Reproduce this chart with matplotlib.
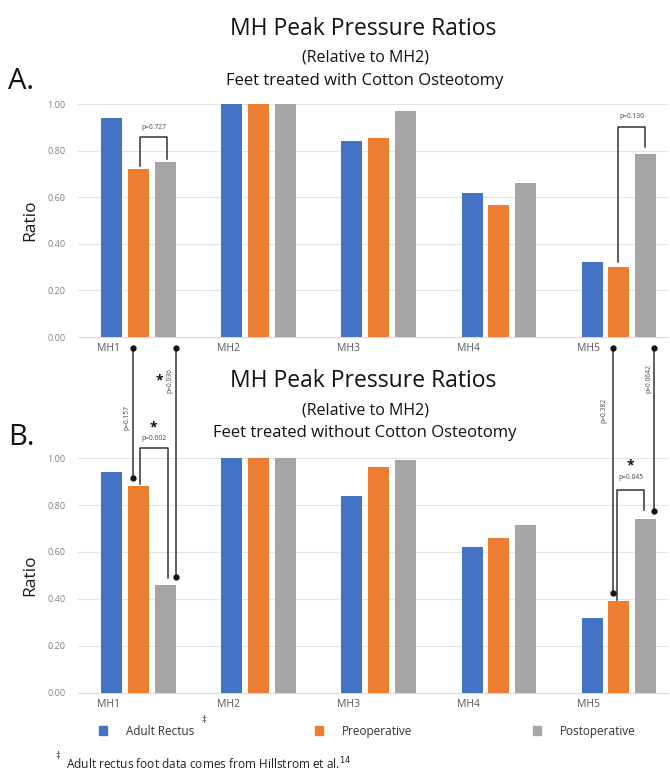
import numpy as np
import matplotlib.pyplot as plt
from matplotlib.patches import Patch

plt.rcParams['font.family'] = ['Open Sans', 'DejaVu Sans']

# data
categories = ["MH1", "MH2", "MH3", "MH4", "MH5"]
series_names = ["Adult Rectus", "Preoperative", "Postoperative"]
adult_rectus = [0.94, 1.00, 0.84, 0.62, 0.32]
pre_with = [0.72, 1.00, 0.855, 0.565, 0.30]
post_with = [0.75, 1.00, 0.97, 0.66, 0.785]
pre_without = [0.88, 1.00, 0.96, 0.66, 0.39]
post_without = [0.46, 1.00, 0.99, 0.715, 0.74]
yticks = [0.0, 0.2, 0.4, 0.6, 0.8, 1.0]

colors = ["#4472C4", "#ED7D31", "#A5A5A5"]
w = 0.175
off = 0.222
x = np.arange(len(categories))

fig = plt.figure(figsize=(6.7, 7.73), dpi=100)
axA = fig.add_axes([0.1164, 0.564, 0.8806, 0.3014])
axB = fig.add_axes([0.1164, 0.1035, 0.8806, 0.304])


def draw_panel(ax, pre, post):
    for k, vals in enumerate([adult_rectus, pre, post]):
        ax.bar(x + (k - 1) * off, vals, width=w, color=colors[k], zorder=3)
    ax.set_ylim(0, 1.0)
    ax.set_xlim(-0.504, 4.41)
    ax.set_yticks(yticks)
    ax.set_yticklabels(["%.2f" % v for v in yticks], fontsize=6.5, color="#7f7f7f")
    ax.set_xticks(x - 0.25)
    ax.set_xticklabels(categories, fontsize=7.5, color="#595959")
    ax.tick_params(length=0, axis="y", pad=9)
    ax.tick_params(length=0, axis="x", pad=4)
    ax.grid(axis="y", color="#e3e3e3", lw=0.8, zorder=0)
    for s in ["top", "right", "left"]:
        ax.spines[s].set_visible(False)
    ax.spines["bottom"].set_color("#d9d9d9")
    ax.set_ylabel("Ratio", fontsize=12.5, color="#1a1a1a")


draw_panel(axA, pre_with, post_with)
draw_panel(axB, pre_without, post_without)
axA.yaxis.set_label_coords(-0.068, 0.5)
axB.yaxis.set_label_coords(-0.068, 0.5)

# titles
for y0, sub in [(0.0, "Feet treated with Cotton Osteotomy"), (0.4555, "Feet treated without Cotton Osteotomy")]:
    fig.text(0.542, 0.962 - y0, "MH Peak Pressure Ratios", ha="center", va="center", fontsize=16.5, color="#111111")
    fig.text(0.545, 0.925 - y0, "(Relative to MH2)", ha="center", va="center", fontsize=11.5, color="#111111")
    fig.text(0.545, 0.8955 - y0, sub, ha="center", va="center", fontsize=12, color="#111111")
fig.text(0.012, 0.895, "A.", fontsize=21, va="center", color="#111111")
fig.text(0.012, 0.434, "B.", fontsize=21, va="center", color="#111111")

lc = "#333333"
lw = 1.1
gap = 0.035


def bracket(ax, x1, x2, ytop, y1, y2, label, star=False, ly=None):
    ax.plot([x1, x1, x2, x2], [y1, ytop, ytop, y2], color=lc, lw=lw, clip_on=False, zorder=5)
    ly = ytop + 0.04 if ly is None else ly
    ax.text((x1 + x2) / 2, ly, label, fontsize=4.8, ha="center", va="center", color="#444444")
    if star:
        ax.text((x1 + x2) / 2, ly + 0.05, "*", fontsize=10, ha="center", va="center", color="#111111", weight="bold")


# panel A brackets
bracket(axA, 0 + 0.012, 0 + off + 0.015, 0.858, pre_with[0] + 0.015, post_with[0] + 0.014, "p=0.727")
bracket(axA, 4 - 0.004, 4 + off, 0.901, pre_with[4] + 0.02, post_with[4] + 0.03, "p=0.130", ly=0.948)

# panel B brackets
bracket(axB, 0 + 0.012, 0 + off + 0.02, 1.043, pre_without[0] + 0.01, post_without[0] + 0.03, "p=0.002", star=True, ly=1.081)
bracket(axB, 4 - 0.015, 4 + off - 0.008, 0.864, pre_without[4] + 0.005, post_without[4] + 0.04, "p=0.045", star=True, ly=0.919)

# connectors between panels
fig.canvas.draw()
y_disp = axA.transData.transform((0, -0.045))[1]
y_top = axB.transData.inverted().transform((0, y_disp))[1]


def connector(xc, yb, label, ly, side=-0.055, star=False):
    axB.plot([xc, xc], [y_top, yb], color=lc, lw=lw, clip_on=False, zorder=5)
    axB.plot([xc, xc], [y_top, yb], "o", color="#111111", ms=3.5, clip_on=False, zorder=6)
    axB.text(xc + side, ly, label, fontsize=4.8, rotation=90, ha="center", va="center", color="#444444")
    if star:
        axB.text(xc - 0.14, ly, "*", fontsize=10, ha="center", va="center", color="#111111", weight="bold")


connector(0 - 0.045, pre_without[0] + gap, "p=0.157", 1.17)
connector(0 + off + 0.09, post_without[0] + gap, "p=0.036", 1.33, side=-0.05, star=True)
connector(4 - 0.05, pre_without[4] + gap, "p=0.382", 1.204, side=-0.07)
connector(4 + off + 0.075, post_without[4] + gap, "p=0.0642", 1.34, side=-0.05)

# legend
handles = [Patch(color=c) for c in colors]
fig.legend(handles, series_names, loc="center left", bbox_to_anchor=(0.132, 0.054), ncol=3,
           frameon=False, fontsize=8.5, handlelength=0.7, handleheight=0.7, handletextpad=1.6,
           columnspacing=10.2, labelcolor="#333333")
fig.text(0.301, 0.068, "\u2021", fontsize=7, color="#333333", va="center")
fig.text(0.083, 0.021, "\u2021", fontsize=7, color="#333333", va="center")
fig.text(0.098, 0.011, "Adult rectus foot data comes from Hillstrom et al.$^{14}$", fontsize=8.6, color="#222222", va="center")

fig.savefig("out.png", dpi=100)
